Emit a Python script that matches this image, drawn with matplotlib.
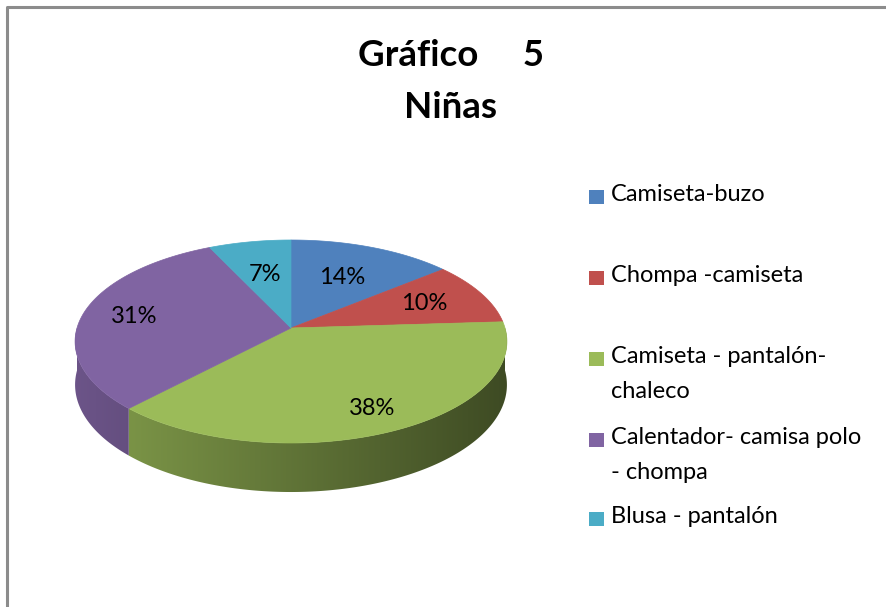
import matplotlib
matplotlib.use("Agg")
import matplotlib.pyplot as plt
from matplotlib.patches import Polygon, Rectangle
import numpy as np

plt.rcParams['font.family'] = ['Lato', 'DejaVu Sans']

# data
categories = ['Camiseta-buzo', 'Chompa -camiseta',
              'Camiseta - pantalón-\nchaleco',
              'Calentador- camisa polo\n- chompa', 'Blusa - pantalón']
values = [14, 10, 38, 31, 7]
labels = ['14%', '10%', '38%', '31%', '7%']
colors = ['#4F81BD', '#C0504D', '#9BBB59', '#8064A2', '#4BACC6']

# layout of the 3d pie (pixels)
cx, cy = 291, 328
R, B = 214, 99.7       # horizontal radius, foreshortened depth radius
k = 0.133              # perspective strength
H = 42.5               # thickness
label_r = [0.56, 0.67, 0.89, 0.74, 0.55]


def project(a, r=1.0, drop=0.0):
    '''a in radians, clockwise from the back (12 o'clock)'''
    u = r * np.sin(a)
    v = -r * np.cos(a)
    f = 1.0 / (1.0 - k * v)
    return cx + R * u * f, cy + (B * v + drop) * f


fig = plt.figure(figsize=(8.86, 6.07), dpi=100)
ax = fig.add_axes([0, 0, 1, 1])
ax.set_xlim(0, 886)
ax.set_ylim(607, 0)
ax.axis('off')

# chart border
ax.plot([7, 7, 886], [607, 7, 7], color='#8c8c8c', lw=2.2,
        solid_capstyle='butt')

fracs = np.array(values) / sum(values)
edges = np.concatenate([[0], np.cumsum(fracs)]) * 2 * np.pi

# side walls (front half only), shaded light on the left, dark on the right
for i in range(len(values)):
    a0, a1 = max(edges[i], np.pi / 2), min(edges[i + 1], 3 * np.pi / 2)
    if a1 <= a0:
        continue
    rgb = np.array(matplotlib.colors.to_rgb(colors[i]))
    t = np.linspace(a0, a1, 200)
    top = [project(a) for a in t]
    bot = [project(a, drop=H) for a in t[::-1]]
    poly = Polygon(top + bot, closed=True, facecolor='none',
                   edgecolor='none')
    ax.add_patch(poly)
    xs = np.array([p[0] for p in top + bot])
    ys = np.array([p[1] for p in top + bot])
    x0, x1 = xs.min() - 2, xs.max() + 2
    y0, y1 = ys.min() - 2, ys.max() + 2
    gx = np.linspace(x0, x1, 300)
    u = (gx - cx) / R
    fac = np.clip(0.62 - 0.22 * u, 0.4, 0.84)
    img = np.tile((fac[:, None] * rgb[None, :])[None, :, :], (10, 1, 1))
    im = ax.imshow(img, extent=(x0, x1, y1, y0), aspect='auto',
                   interpolation='bilinear', zorder=1)
    im.set_clip_path(poly)

ax.set_xlim(0, 886)
ax.set_ylim(607, 0)

# top faces
for i in range(len(values)):
    t = np.linspace(edges[i], edges[i + 1], 200)
    pts = [(cx, cy)] + [project(a) for a in t]
    ax.add_patch(Polygon(pts, closed=True, facecolor=colors[i],
                         edgecolor=colors[i], lw=0.5, zorder=2))

# labels
for i in range(len(values)):
    mid = (edges[i] + edges[i + 1]) / 2
    x = cx + R * np.sin(mid) * label_r[i]
    y = cy - B * np.cos(mid) * label_r[i]
    ax.text(x, y, labels[i], ha='center', va='center', fontsize=17,
            color='black', zorder=3)

# title
ax.text(451, 56, 'Gráfico     5', ha='center', va='center', fontsize=26.5,
        fontweight='bold')
ax.text(451, 107, 'Niñas', ha='center', va='center', fontsize=26.5,
        fontweight='bold')

# legend
leg_y = [197, 278, 359, 440, 519]
for i, name in enumerate(categories):
    ax.add_patch(Rectangle((589, leg_y[i] - 7), 15, 14, facecolor=colors[i],
                           edgecolor='none'))
    ax.text(611, leg_y[i] - 13, name, ha='left', va='top', fontsize=17,
            linespacing=1.8)

fig.savefig('out.png', dpi=100)
